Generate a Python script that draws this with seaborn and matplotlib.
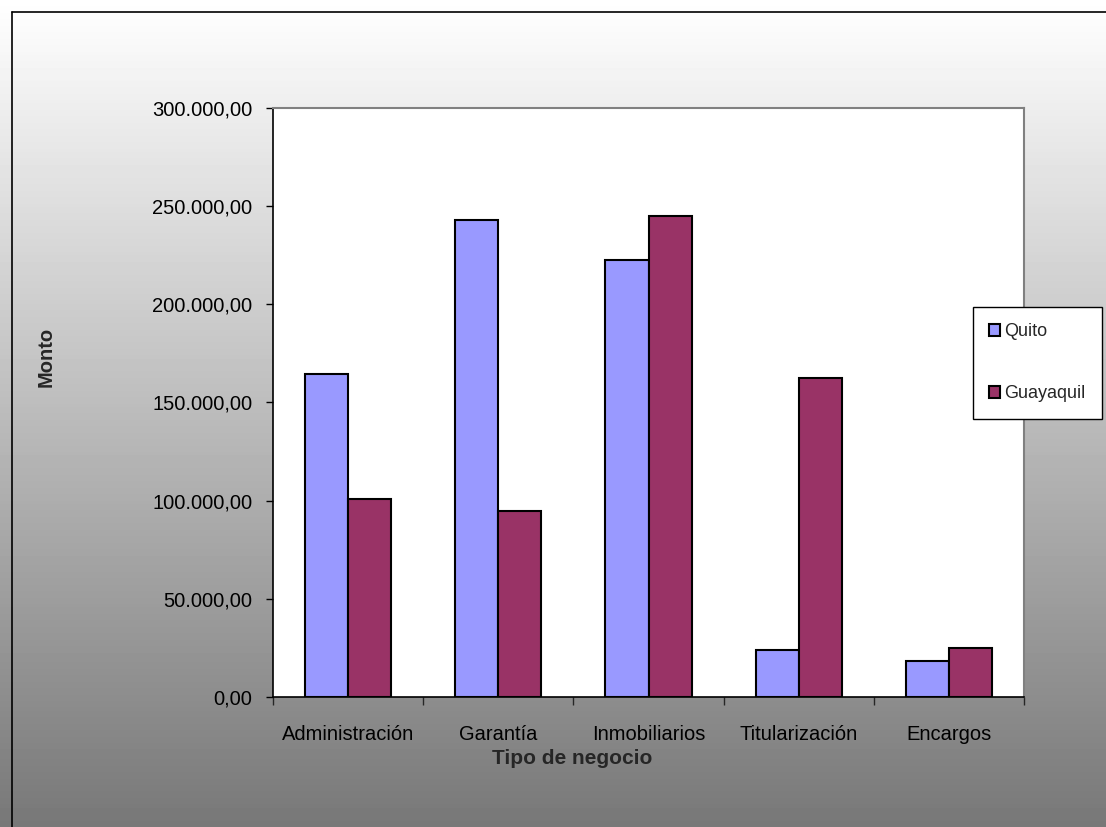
import numpy as np
import pandas as pd
import matplotlib
matplotlib.use("Agg")
import matplotlib.pyplot as plt
import seaborn as sns
from matplotlib.ticker import FuncFormatter
from matplotlib.lines import Line2D

# data
categorias = ["Administración", "Garantía", "Inmobiliarios", "Titularización", "Encargos"]
quito = [164500, 242900, 222600, 23900, 18300]
guayaquil = [100800, 94700, 245000, 162500, 25000]
ciudades = ["Quito", "Guayaquil"]
colores = ["#9999FF", "#993366"]

df = pd.DataFrame({
    "Tipo de negocio": categorias * 2,
    "Monto": quito + guayaquil,
    "Ciudad": ["Quito"] * len(categorias) + ["Guayaquil"] * len(categorias),
})

sns.set_style("white")
plt.rcParams["font.family"] = ["Liberation Sans", "DejaVu Sans"]
fs = 14.5

fig = plt.figure(figsize=(11.06, 8.27), dpi=100)

# gradient background
bg = fig.add_axes([0, 0, 1, 1], zorder=-10)
grad = np.linspace(1.0, 0.47, 256).reshape(-1, 1)
bg.imshow(grad, aspect="auto", cmap="gray", vmin=0, vmax=1, extent=[0, 1, 0, 1])
bg.set_axis_off()

# chart border (top and left visible)
fig.add_artist(Line2D([12 / 1106, 12 / 1106], [0, 1 - 12 / 827], color="black", lw=1.2, transform=fig.transFigure))
fig.add_artist(Line2D([12 / 1106, 1], [1 - 12 / 827, 1 - 12 / 827], color="black", lw=1.2, transform=fig.transFigure))

ax = fig.add_axes([273 / 1106, 1 - 697 / 827, 751 / 1106, 589 / 827])
ax.set_facecolor("white")

sns.barplot(data=df, x="Tipo de negocio", y="Monto", hue="Ciudad", hue_order=ciudades,
            palette=colores, width=0.573, edgecolor="black", linewidth=1.5,
            saturation=1, ax=ax, legend=True)

ax.set_xlim(-0.5, len(categorias) - 0.5)
ax.set_ylim(0, 300000)
ax.set_yticks(np.arange(0, 300001, 50000))
ax.yaxis.set_major_formatter(FuncFormatter(
    lambda v, p: f"{v:,.2f}".replace(",", "X").replace(".", ",").replace("X", ".")))
ax.tick_params(axis="y", which="major", left=True, direction="out", length=5, width=1,
               pad=10, labelsize=fs, colors="black")

# x ticks at category boundaries, labels at centers
ax.set_xticks(np.arange(-0.5, len(categorias), 1))
ax.set_xticklabels([])
ax.set_xticks(range(len(categorias)), minor=True)
ax.set_xticklabels(categorias, minor=True)
ax.tick_params(axis="x", which="major", bottom=True, direction="out", length=6, width=1)
ax.tick_params(axis="x", which="minor", bottom=False, length=0, pad=20, labelsize=fs, colors="black")

for s in ["left", "bottom"]:
    ax.spines[s].set_color("black")
    ax.spines[s].set_linewidth(1.2)
for s in ["top", "right"]:
    ax.spines[s].set_color("#808080")
    ax.spines[s].set_linewidth(1.5)

ax.set_xlabel("Tipo de negocio", fontsize=15, fontweight="bold")
ax.xaxis.set_label_coords(0.398, -0.104)
ax.xaxis.label.set_verticalalignment("center")
ax.set_ylabel("Monto", fontsize=fs, fontweight="bold")
ax.yaxis.set_label_coords(-0.29, 0.577)

handles, labels = ax.get_legend_handles_labels()
ax.legend(handles, labels, loc="upper left", bbox_to_anchor=(973 / 1106, 1 - 307 / 827),
          bbox_transform=fig.transFigure, frameon=True, fancybox=False, framealpha=1,
          edgecolor="black", fontsize=13, handlelength=0.6, handleheight=0.6,
          handletextpad=0.25, labelspacing=2.5, borderpad=0.9, borderaxespad=0)
leg = ax.get_legend()
leg.get_frame().set_linewidth(1.0)

fig.savefig("out.png", dpi=100)
